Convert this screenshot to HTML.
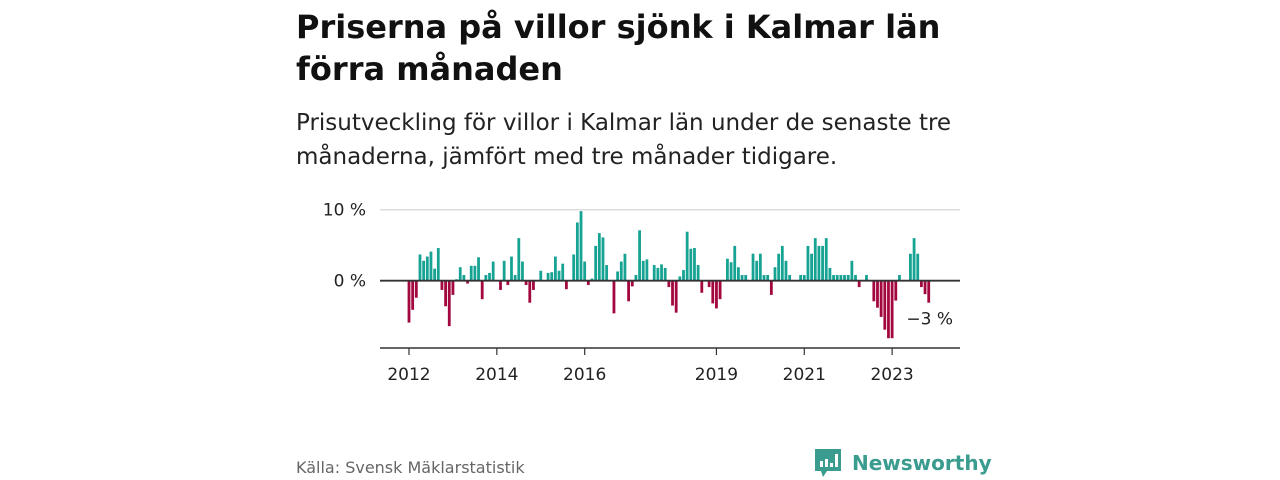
<!DOCTYPE html>
<html><head><meta charset="utf-8">
<style>
body{margin:0;width:1280px;height:480px;background:#fff;font-family:"DejaVu Sans","Liberation Sans",sans-serif;position:relative;overflow:hidden;color:#111}
#title{position:absolute;left:296px;top:6px;font-size:32px;font-weight:bold;line-height:42px;width:680px;margin:0}
#sub{position:absolute;left:296px;top:106px;font-size:23px;line-height:34px;width:700px;color:#222}
#src{position:absolute;left:296px;top:458px;font-size:16px;color:#666}
#logo{position:absolute;left:815px;top:447px;display:flex;align-items:center;color:#3a9c8f;font-size:20px;font-weight:bold}
svg text{font-family:"DejaVu Sans","Liberation Sans",sans-serif}
</style></head><body>
<h1 id="title">Priserna på villor sjönk i Kalmar län förra månaden</h1>
<div id="sub">Prisutveckling för villor i Kalmar län under de senaste tre månaderna, jämfört med tre månader tidigare.</div>
<svg id="chart" width="1280" height="480" style="position:absolute;left:0;top:0"></svg>
<div id="src">Källa: Svensk Mäklarstatistik</div>
<div id="logo">
<svg width="28" height="32" viewBox="0 0 28 32"><path d="M0 2h26v22H12l-4 6-2-6H0z" fill="#3a9c8f"/><rect x="5" y="14" width="3" height="6" fill="#fff"/><rect x="10" y="12" width="3" height="8" fill="#fff"/><rect x="15" y="16" width="3" height="4" fill="#fff"/><rect x="20" y="7" width="3" height="13" fill="#fff"/></svg>
<span style="margin-left:9px">Newsworthy</span></div>
<script>
const values=[-5.9,-4.1,-2.4,3.7,2.8,3.4,4.1,1.7,4.6,-1.3,-3.6,-6.4,-2.0,0.2,1.9,0.8,-0.4,2.1,2.1,3.3,-2.6,0.8,1.1,2.7,0,-1.3,2.8,-0.6,3.4,0.8,6.0,2.7,-0.6,-3.1,-1.3,0,1.4,0,1.1,1.2,3.4,1.4,2.4,-1.2,0,3.7,8.2,
9.8,2.7,-0.6,0.3,4.9,6.7,6.1,2.2,0,-4.6,1.3,2.7,3.8,-2.9,-0.8,0.8,7.1,2.8,3.0,0,2.2,1.8,2.3,1.8,-0.9,-3.5,-4.5,0.6,1.5,6.9,4.5,4.6,2.2,-1.7,0,-0.9,-3.2,-3.9,-2.6,0.1,3.1,2.6,4.9,1.9,0.8,0.8,0,3.8,2.8,3.8,0.8,0.8,
-2.0,1.9,3.8,4.9,2.8,0.8,0,0,0.8,0.8,4.9,3.8,6.0,4.9,4.9,6.0,1.8,0.8,0.8,0.8,0.8,0.8,2.8,0.8,-0.9,0,0.8,0,-2.9,-3.8,-5.1,-6.9,-8.1,-8.1,-2.8,0.8,0,0,3.8,6.0,3.8,-0.9,-1.9,-3.1];
const xTickYears=[2012,2014,2016,2019,2021,2023];
const yTicks=[0,10];
const yTickLabels=["0 %","10 %"];
const lastLabel="−3 %";
const svg=document.getElementById('chart');
const NS='http://www.w3.org/2000/svg';
const x0=409,step=3.66,startYear=2012;
const xs=i=>x0+i*step;
const ys=v=>280.7-v*7.1;
function mk(t,a){const e=document.createElementNS(NS,t);for(const k in a)e.setAttribute(k,a[k]);svg.appendChild(e);return e;}
yTicks.forEach((t,i)=>{
 if(t!==0){const g=mk('line',{x1:380,x2:960,y1:ys(t),y2:ys(t),stroke:'#ddd','stroke-width':1.5});
 
 }
 const l=mk('text',{x:366,y:ys(t)+6,'text-anchor':'end','font-size':17,fill:'#222'});
 l.textContent=yTickLabels[i];
 
 
});
values.forEach((v,i)=>{
 const y=Math.min(ys(v),ys(0)),h=Math.abs(ys(v)-ys(0));
 const r=mk('rect',{x:xs(i)-1.4,y:y,width:2.8,height:h,fill:v>=0?'#17a393':'#a3073f'});
 
 
});
const z=mk('line',{x1:380,x2:960,y1:ys(0),y2:ys(0),stroke:'#333','stroke-width':1.8});


const ax=mk('line',{x1:380,x2:960,y1:348,y2:348,stroke:'#333','stroke-width':1.5});


xTickYears.forEach(yr=>{
 const x=xs((yr-startYear)*12);
 const tk=mk('line',{x1:x,x2:x,y1:348,y2:355,stroke:'#333','stroke-width':1.2});
 
 
 const t=mk('text',{x:x,y:380,'text-anchor':'middle','font-size':17,fill:'#222'});
 t.textContent=yr;
 
 
});
const li=values.length-1;
const lab=mk('text',{x:xs(li)+1,y:ys(values[li])+22,'text-anchor':'middle','font-size':17,fill:'#222'});
lab.textContent=lastLabel;


</script>
</body></html>
